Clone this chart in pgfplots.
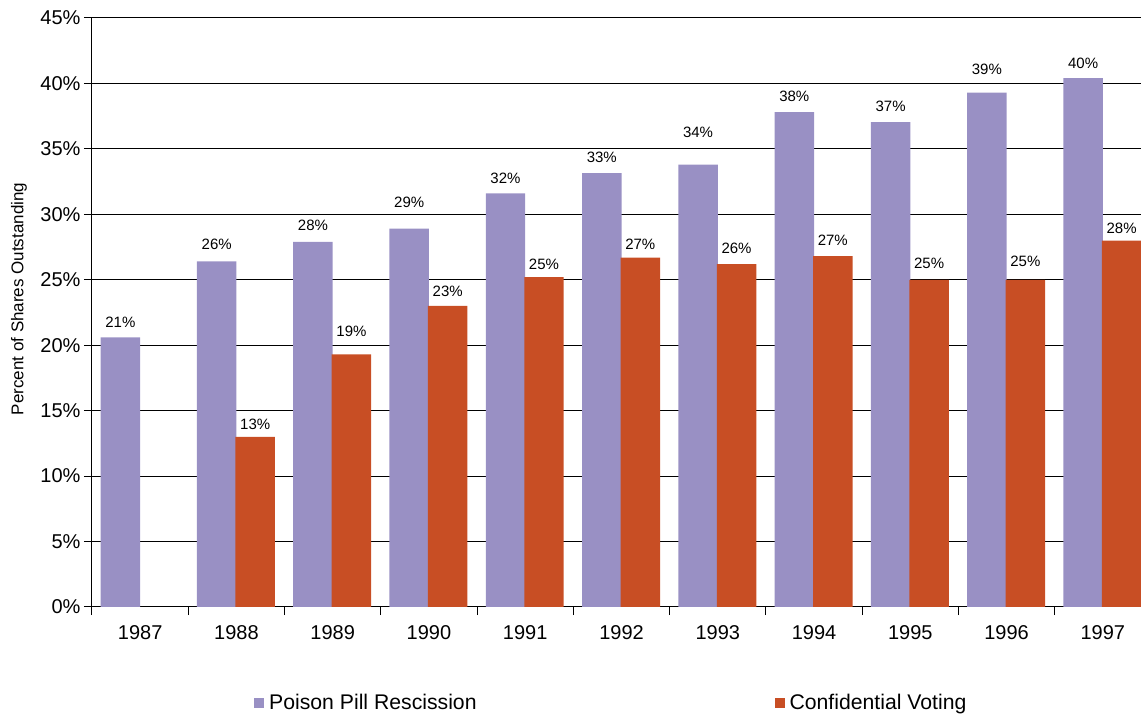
\documentclass[border=0pt]{standalone}
\usepackage{pgfplots}
\pgfplotsset{compat=1.18}
\usepackage{pgfplotstable}
\usepackage{fontspec}
\setmainfont{Liberation Sans}
\definecolor{ppurple}{RGB}{153,144,196}
\definecolor{porange}{RGB}{200,78,36}
\pgfplotstableread{
x y dy
0 20.6 10
1 26.4 12
2 27.9 11
3 28.9 21
4 31.6 10
5 33.15 11
6 33.8 27
7 37.8 11
8 37.05 11
9 39.3 18
10 40.4 10
}\pill
\pgfplotstableread{
x y dy
1 13.0 7
2 19.3 18
3 23.0 9
4 25.2 8
5 26.7 8
6 26.2 11
7 26.8 11
8 25.0 11
9 25.0 13
10 28.0 7
}\conf
\begin{document}
\begin{tikzpicture}
\begin{axis}[
  at={(92pt,108pt)}, anchor=south west,
  scale only axis, width=1059pt, height=589pt,
  xmin=-0.5, xmax=10.5, ymin=0, ymax=45,
  axis lines*=left,
  axis line style={-, line width=1pt, black},
  ymajorgrids, grid style={black, line width=1pt},
  /pgf/number format/assume math mode=true,
  ytick={0,5,10,15,20,25,30,35,40,45},
  yticklabels={0\%,5\%,10\%,15\%,20\%,25\%,30\%,35\%,40\%,45\%},
  xtick={-0.5,0.5,1.5,2.5,3.5,4.5,5.5,6.5,7.5,8.5,9.5,10.5},
  xticklabels={1987,1988,1989,1990,1991,1992,1993,1994,1995,1996,1997,{}},
  xticklabel style={xshift=48.14pt, yshift=-7pt},
  xtick align=center, ytick align=outside,
  major tick length=8pt,
  tick style={black, line width=1pt},
  tick label style={font=\fontsize{20}{24}\selectfont, text=black},
  ylabel={Percent of Shares Outstanding},
  ylabel style={at={(rel axis cs:-0.0689,0.523)}, anchor=center, font=\fontsize{17}{20}\selectfont},
  ybar, bar width=0.41,
  nodes near coords={\pgfmathprintnumber[fixed,precision=0]{\pgfplotspointmeta}\%},
  visualization depends on={\thisrow{dy} \as \labeldy},
  every node near coord/.append style={anchor=base, inner sep=0pt, yshift=\labeldy, font=\fontsize{15}{18}\selectfont, text=black},
  legend columns=2,
  legend style={at={(rel axis cs:0.153,-0.163)}, anchor=west, draw=none, fill=none,
    font=\fontsize{21.2}{25}\selectfont, inner sep=0pt,
    /tikz/every even column/.append style={column sep=296pt}},
]
\addplot[fill=ppurple, draw=none, bar shift=-0.205,
  legend image code/.code={\fill[ppurple] (0pt,-5pt) rectangle (10pt,5pt); \path (13pt,0pt);}]
  table[x=x, y=y] {\pill};
\addlegendentry{Poison Pill Rescission}
\addplot[fill=porange, draw=none, bar shift=0.195,
  legend image code/.code={\fill[porange] (0pt,-5pt) rectangle (10pt,5pt); \path (13pt,0pt);}]
  table[x=x, y=y] {\conf};
\addlegendentry{Confidential Voting}
\end{axis}
\pgfresetboundingbox
\useasboundingbox (0,0) rectangle (1141pt,715pt);
\end{tikzpicture}
\end{document}
